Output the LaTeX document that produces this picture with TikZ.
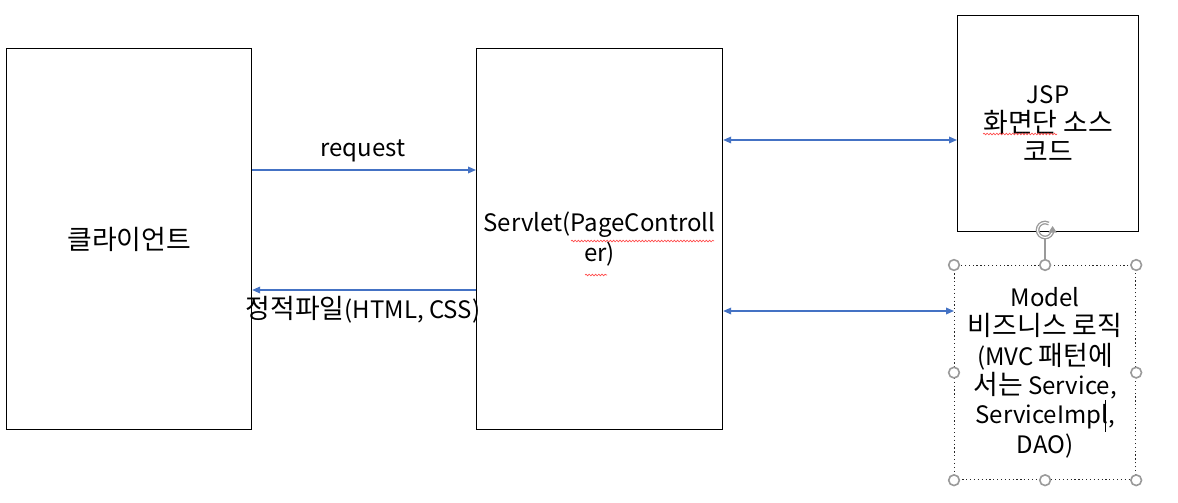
\documentclass[tikz,border=0pt]{standalone}
\usepackage{fontspec}
\setmainfont{Noto Sans CJK KR}
\newfontfamily\krfont{Noto Sans CJK KR}[Scale=1.12]
\newcommand{\kr}[1]{{\krfont #1}}
\usetikzlibrary{arrows.meta,decorations.pathmorphing}
\definecolor{arrblue}{HTML}{4472C4}
\definecolor{handlegray}{HTML}{9A9A9A}
\tikzset{
  box/.style={draw=black, line width=0.9pt, anchor=north west, inner sep=0pt, align=center,
    font=\fontsize{18pt}{22pt}\selectfont},
  conn/.style={draw=arrblue, line width=0.9pt, -{Triangle[length=6pt,width=5pt]}},
  dconn/.style={draw=arrblue, line width=0.9pt, {Triangle[length=6pt,width=5pt]}-{Triangle[length=6pt,width=5pt]}},
  lbl/.style={font=\fontsize{18pt}{22pt}\selectfont, inner sep=0pt},
  handle/.style={draw=handlegray, fill=white, line width=1.2pt, circle, minimum size=8pt, inner sep=0pt},
  squig/.style={draw=red!70, line width=0.5pt, decorate, decoration={snake, amplitude=0.6pt, segment length=2.4pt}}
}
\begin{document}
\begin{tikzpicture}[x=0.75pt,y=-0.75pt]
\useasboundingbox (0,0) rectangle (1178,503);
\fill[white] (0,0) rectangle (1178,503);
% boxes
\node[box, minimum width=183.75pt, minimum height=285.75pt] (client) at (6,48) {\kr{클라이언트}};
\node[box, minimum width=184.5pt, minimum height=285.75pt] (servlet) at (476,48) {Servlet(PageControll\\er)};
\node[box, minimum width=135.75pt, minimum height=162pt] (jsp) at (957,15) {JSP\\\kr{화면단 소스}\\\kr{코드}};
\node[box, draw=black!85, dotted, minimum width=135.75pt, minimum height=160.5pt] (model) at (954,265)
  {Model\\\kr{비즈니스 로직}\\(MVC \kr{패턴에}\\\kr{서는} Service,\\ServiceImpl,\\DAO)};
% connectors
\draw[conn] (client.east |- 0,170) -- (servlet.west |- 0,170);
\draw[conn] (servlet.west |- 0,290) -- (client.east |- 0,290);
\draw[dconn] (servlet.east |- 0,140) -- (jsp.west |- 0,140);
\draw[dconn] (servlet.east |- 0,311) -- (model.west |- 0,311);
% labels
\node[lbl] (reqlbl) at (363,151) {request};
\node[lbl] (resplbl) at (363,310) {\kr{정적파일}(HTML, CSS)};
% spelling squiggles
\draw[squig] (571,241) -- (714,241);
\draw[squig] (585,275) -- (607,275);
\draw[squig] (983,134) -- (1057,134);
% text cursor
\draw[black, line width=0.7pt] (1105,400) -- (1105,432);
% rotation handle
\coordinate (rot) at (model.north |- 0,230);
\draw[handlegray, line width=1.1pt] (model.north) -- (model.north |- 0,238);
\draw[handlegray, line width=2.8pt] ([xshift=5.6pt]rot) arc[start angle=0, end angle=300, radius=7.5];
\draw[white, line width=0.8pt] ([xshift=5.6pt]rot) arc[start angle=0, end angle=300, radius=7.5];
\fill[handlegray] ([xshift=2.4pt,yshift=-2pt]rot) -- ([xshift=8.8pt,yshift=-2pt]rot) -- ([xshift=5.6pt,yshift=3pt]rot) -- cycle;
% selection handles
\foreach \a in {north west,north,north east,west,east,south west,south,south east}
  \node[handle] at (model.\a) {};
\end{tikzpicture}
\end{document}
